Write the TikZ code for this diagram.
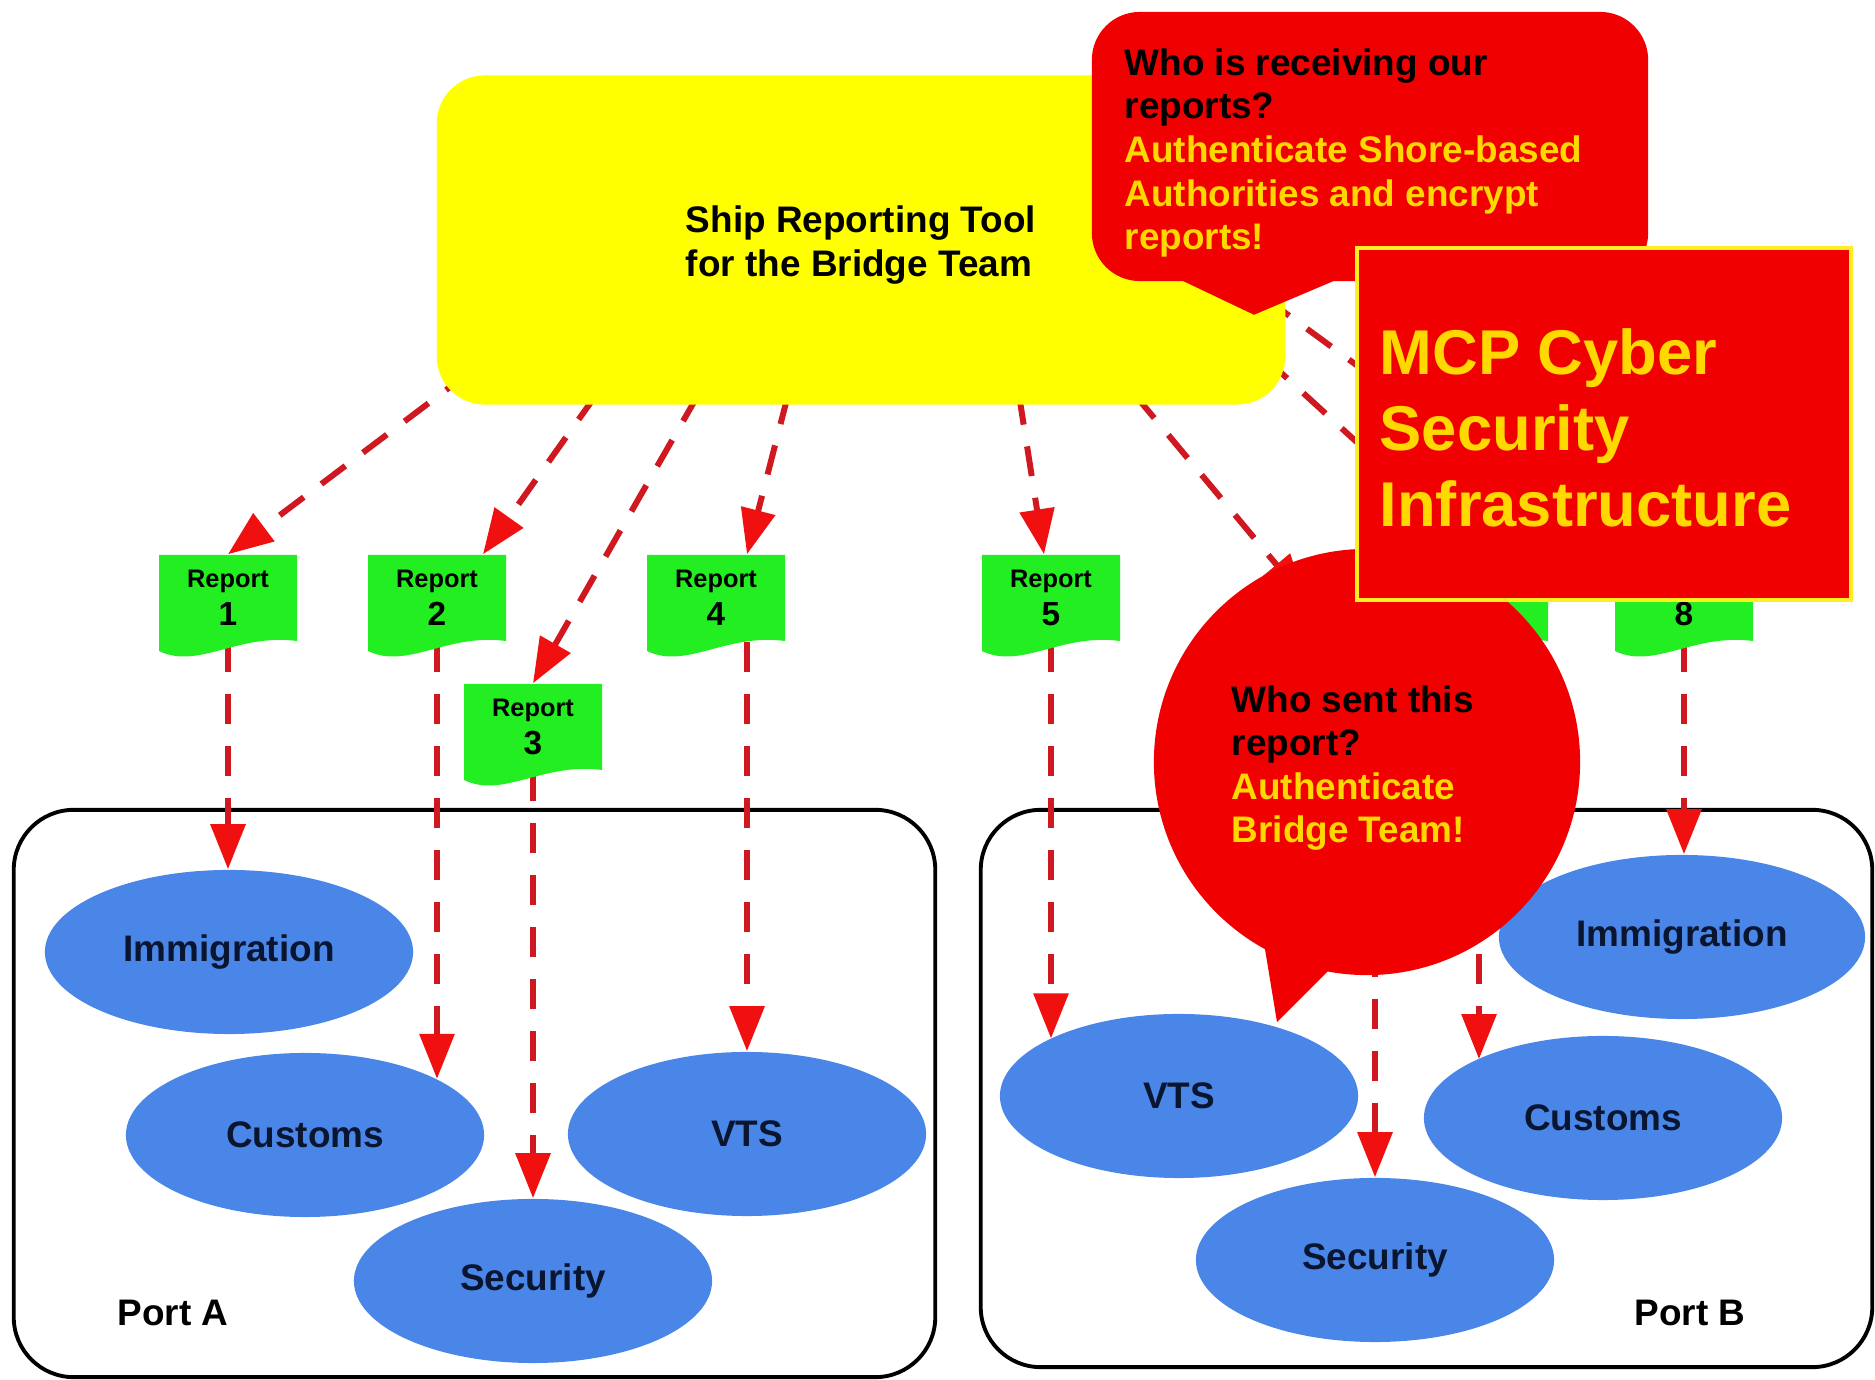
\documentclass[tikz,border=0pt]{standalone}
\usepackage{fontspec}
\setmainfont{Liberation Sans}
\usetikzlibrary{arrows.meta,calc,shapes.geometric}
\pgfdeclarelayer{bg}
\pgfdeclarelayer{lines}
\pgfsetlayers{bg,lines,main}
\definecolor{bred}{HTML}{F00000}
\definecolor{byel}{HTML}{FFFF00}
\definecolor{tyel}{HTML}{FFD800}
\definecolor{myel}{HTML}{FFEE22}
\definecolor{rgreen}{HTML}{22EE22}
\definecolor{eblue}{HTML}{4A86E8}
\definecolor{dline}{HTML}{D01820}
\definecolor{dtip}{HTML}{F01010}
\definecolor{etext}{HTML}{0A1530}
\newcommand{\reportdoc}[3]{%
  \coordinate (#1c) at (#2);
  \fill[rgreen] ($(#1c)+(-69,-43)$) -- ($(#1c)+(69,-43)$) -- ($(#1c)+(69,43)$)
     .. controls ($(#1c)+(10,35)$) and ($(#1c)+(-30,72)$) .. ($(#1c)+(-69,53)$) -- cycle;
  \node[rep] (#1) at (#1c) {Report\\{\fontsize{9.5}{10.8}\selectfont #3}};
}
\begin{document}
\begin{tikzpicture}[x=0.01cm,y=-0.01cm,
  portbox/.style={draw=black, line width=1.1pt, rounded corners=0.6cm, inner sep=0pt},
  lbl/.style={font=\fontsize{10.5}{12.5}\selectfont\bfseries, text=black},
  svc/.style={ellipse, fill=eblue, minimum width=3.58cm, minimum height=1.64cm, inner sep=0pt,
    font=\fontsize{10.5}{12.5}\selectfont\bfseries, text=etext},
  rep/.style={minimum width=1.38cm, minimum height=0.86cm, inner sep=0pt, align=center,
    font=\fontsize{7.2}{10.8}\selectfont\bfseries, text=black},
  flow/.style={draw=dline, line width=1.7pt, dash pattern=on 0.3cm off 0.22cm,
    -{Triangle[length=0.45cm,width=0.34cm,fill=dtip,color=dtip]}},
  bodytext/.style={font=\fontsize{10.5}{12.4}\selectfont\bfseries, align=left, inner sep=0pt}
]
\useasboundingbox (0,0) rectangle (1875,1380);

\begin{pgfonlayer}{bg}
\node[portbox, minimum width=9.21cm, minimum height=5.67cm] (portA) at (474.5,1093.5) {};
\node[portbox, minimum width=8.91cm, minimum height=5.57cm] (portB) at (1426.5,1088.5) {};
\node[lbl] (portAl) at (173,1313) {Port A};
\node[lbl] (portBl) at (1690,1313) {Port B};
\node[svc, minimum width=3.68cm] (immA) at (229,952) {Immigration};
\node[svc] (cusA) at (305,1135) {Customs};
\node[svc] (secA) at (533,1281) {Security};
\node[svc] (vtsA) at (747,1134) {VTS};
\node[svc] (vtsB) at (1179,1096) {VTS};
\node[svc] (cusB) at (1603,1118) {Customs};
\node[svc] (secB) at (1375,1260) {Security};
\node[svc, minimum width=3.66cm] (immB) at (1682,937) {Immigration};
\end{pgfonlayer}

% reports
\reportdoc{r1}{228,598}{1}
\reportdoc{r2}{437,598}{2}
\reportdoc{r3}{533,727}{3}
\reportdoc{r4}{716,598}{4}
\reportdoc{r5}{1051,598}{5}
\reportdoc{r6}{1375,643}{6}
\reportdoc{r7}{1479,598}{7}
\reportdoc{r8}{1684,598}{8}

% ship reporting tool
\node[fill=byel, rounded corners=0.48cm, minimum width=8.48cm, minimum height=3.29cm] (yel) at (861,240) {};
\node[align=left, inner sep=0pt, font=\fontsize{10.5}{12.5}\selectfont\bfseries] (yelt) at (861,245)
  {Ship Reporting Tool\\for the Bridge Team};

% callout 1
\node[fill=bred, rounded corners=0.48cm, minimum width=5.56cm, minimum height=2.69cm] (ask1) at (1370,146.5) {};
\fill[bred] ($(ask1.south)+(-198,-6)$) -- ($(ask1.south)+(-116,33)$) -- ($(ask1.south)+(-24,-6)$) -- cycle;
\node[bodytext, anchor=west] (ask1t) at (1124,153)
  {Who is receiving our\\reports?\\\textcolor{tyel}{Authenticate Shore-based}\\
   \textcolor{tyel}{Authorities and encrypt}\\\textcolor{tyel}{reports!}};

% callout 2
\node[circle, fill=bred, minimum size=4.26cm, inner sep=0pt] (ask2) at (1367,762) {};
\fill[bred] ($(ask2.center)+(-104,175)$) -- ($(ask2.center)+(-90,260)$) -- ($(ask2.center)+(-30,200)$) -- cycle;
\node[bodytext, anchor=west] (ask2t) at (1231,768)
  {Who sent this\\report?\\\textcolor{tyel}{Authenticate}\\\textcolor{tyel}{Bridge Team!}};

% MCP box
\node[fill=bred, draw=myel, line width=1.2pt, minimum width=4.94cm, minimum height=3.52cm] (mcp) at (1604,424) {};
\node[anchor=west, align=left, inner sep=0pt, text=tyel,
  font=\fontsize{18}{21.6}\selectfont\bfseries] (mcpt) at (1379,428)
  {MCP Cyber\\Security\\Infrastructure};

% connectors
\coordinate (s1) at (470,372);
\coordinate (s2) at (596,395);
\coordinate (s3) at (698,395);
\coordinate (s4) at (788,395);
\coordinate (s5) at (1019,395);
\coordinate (s6) at (1135,395);
\coordinate (s7) at (1265,358);
\coordinate (s8) at (1265,298);

\begin{pgfonlayer}{lines}
\draw[flow] (s1) -- (r1.north);
\draw[flow] (s2) -- ($(r2.north)+(46,0)$);
\draw[flow] (s3) -- (r3.north);
\draw[flow] (s4) -- ($(r4.north)+(31,0)$);
\draw[flow] (s5) -- ($(r5.north)+(-7,0)$);
\draw[flow] (s6) -- (r6.north west);
\draw[flow] (s7) -- (r7.north);
\draw[flow] (s8) -- (r8.north west);

\draw[flow] (r1.south) -- (r1.south |- immA.north);
\draw[flow] (r2.south) -- (r2.south |- cusA.23);
\draw[flow] (r3.south) -- (r3.south |- secA.north);
\draw[flow] (r4.south -| vtsA.north) -- (vtsA.north);
\draw[flow] (r5.south) -- (r5.south |- vtsB.156);
\draw[flow] (r6.south) -- (r6.south |- secB.north);
\draw[flow] (r7.south) -- (r7.south |- cusB.155);
\draw[flow] (r8.south) -- (r8.south |- immB.north);
\end{pgfonlayer}
\end{tikzpicture}
\end{document}
